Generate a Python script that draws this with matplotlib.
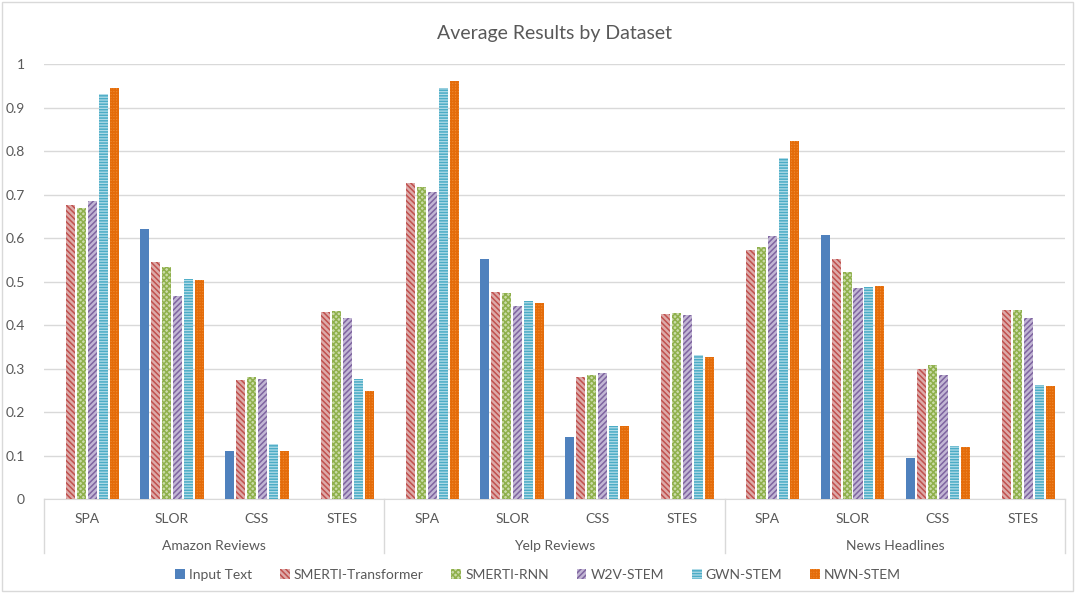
import numpy as np
import matplotlib
matplotlib.use("Agg")
import matplotlib.pyplot as plt
from matplotlib.patches import Rectangle
from matplotlib.transforms import blended_transform_factory

plt.rcParams['font.family'] = ['Lato', 'DejaVu Sans']
plt.rcParams['hatch.linewidth'] = 1.1

datasets = ['Amazon Reviews', 'Yelp Reviews', 'News Headlines']
metrics = ['SPA', 'SLOR', 'CSS', 'STES']
series = ['Input Text', 'SMERTI-Transformer', 'SMERTI-RNN', 'W2V-STEM', 'GWN-STEM', 'NWN-STEM']

# values per series, ordered dataset by dataset, metric by metric
input_text = [0, 0.621, 0.110, 0,   0, 0.551, 0.142, 0,   0, 0.608, 0.094, 0]
smerti_transformer = [0.676, 0.544, 0.273, 0.429,   0.726, 0.476, 0.280, 0.425,   0.573, 0.551, 0.300, 0.435]
smerti_rnn = [0.669, 0.534, 0.280, 0.432,   0.718, 0.474, 0.286, 0.428,   0.579, 0.521, 0.309, 0.435]
w2v_stem = [0.684, 0.466, 0.276, 0.416,   0.705, 0.444, 0.290, 0.422,   0.604, 0.485, 0.285, 0.415]
gwn_stem = [0.931, 0.506, 0.126, 0.276,   0.946, 0.455, 0.169, 0.332,   0.783, 0.488, 0.123, 0.262]
nwn_stem = [0.944, 0.503, 0.110, 0.248,   0.960, 0.450, 0.167, 0.326,   0.824, 0.490, 0.119, 0.259]

values = [input_text, smerti_transformer, smerti_rnn, w2v_stem, gwn_stem, nwn_stem]
faces = ['#4F81BD', '#DDAAA9', '#CBDCAA', '#C2B6D4', '#B3DCE8', '#F08A30']
edges = ['#4F81BD', '#C0504D', '#8FB04C', '#7E64A0', '#4BACC6', '#E46C0A']
hatches = [None, '\\\\\\\\\\\\', 'xxxxxx', '//////', '------', '++++++']

txt = '#595959'
fig = plt.figure(figsize=(10.76, 5.93), dpi=100)
ax = fig.add_axes([0.041, 0.1585, 0.949, 0.7335])

x = np.arange(len(datasets) * len(metrics))
slot = 0.129
w = 0.106
for j in range(len(series)):
    ax.bar(x + (j - 2.5) * slot, values[j], width=w, color=faces[j],
           edgecolor=edges[j], linewidth=0, hatch=hatches[j],
           label=series[j], zorder=3)

ax.set_xlim(-0.5, len(x) - 0.5)
ax.set_ylim(0, 1.0)
ax.set_yticks(np.arange(0, 1.01, 0.1))
ax.set_yticklabels(['0', '0.1', '0.2', '0.3', '0.4', '0.5', '0.6', '0.7', '0.8', '0.9', '1'])
ax.yaxis.grid(True, color='#D9D9D9', linewidth=1, zorder=0)
ax.tick_params(axis='y', length=0, labelsize=10, colors=txt, pad=14)
for s in ['top', 'right', 'left']:
    ax.spines[s].set_visible(False)
ax.spines['bottom'].set_color('#D9D9D9')

ax.set_xticks(x)
ax.set_xticklabels(metrics * len(datasets))
ax.tick_params(axis='x', length=0, labelsize=10, colors=txt, pad=10)

trans = blended_transform_factory(ax.transData, ax.transAxes)
for i, d in enumerate(datasets):
    ax.text(i * 4 + 1.5, -0.107, d, transform=trans, ha='center', va='center',
            fontsize=10, color=txt)
for b in range(len(datasets) + 1):
    ax.plot([b * 4 - 0.5, b * 4 - 0.5], [0, -0.125], transform=trans,
            color='#D9D9D9', linewidth=1, clip_on=False)

ax.set_title('Average Results by Dataset', fontsize=14, color=txt, pad=18)

leg = fig.legend(loc='center', bbox_to_anchor=(0.5, 0.03), ncol=6, frameon=False,
                 fontsize=10, handlelength=0.7, handleheight=0.7,
                 handletextpad=0.3, columnspacing=2.0)
for t in leg.get_texts():
    t.set_color(txt)

fig.patches.append(Rectangle((0.002, 0.004), 0.995, 0.992, transform=fig.transFigure,
                             fill=False, edgecolor='#D9D9D9', linewidth=1))

fig.savefig('out.png', dpi=100)
